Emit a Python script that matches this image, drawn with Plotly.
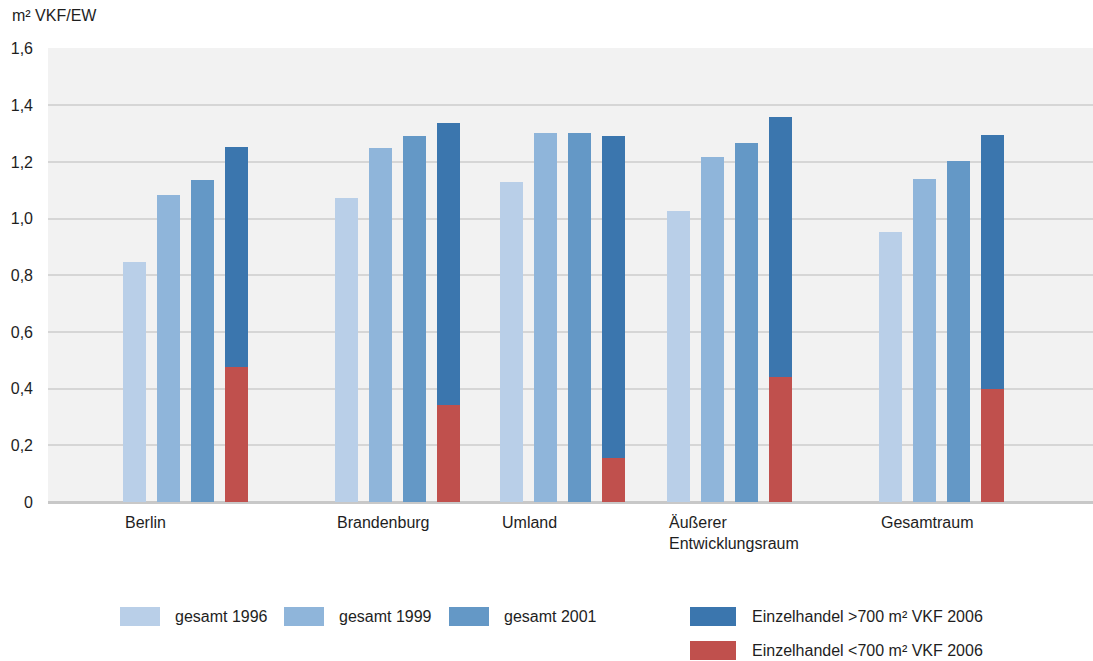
import plotly.graph_objects as go

# values in m² VKF per inhabitant
regions = ["Berlin", "Brandenburg", "Umland", "Äußerer<br>Entwicklungsraum", "Gesamtraum"]
gesamt_1996 = [0.846, 1.072, 1.129, 1.026, 0.952]
gesamt_1999 = [1.083, 1.249, 1.302, 1.217, 1.139]
gesamt_2001 = [1.136, 1.291, 1.302, 1.266, 1.203]
eh_klein_2006 = [0.476, 0.342, 0.155, 0.441, 0.399]   # Einzelhandel <700 m² VKF 2006
eh_gross_2006 = [0.776, 0.995, 1.136, 0.917, 0.896]   # Einzelhandel >700 m² VKF 2006

tick_vals = [0, 0.2, 0.4, 0.6, 0.8, 1.0, 1.2, 1.4, 1.6]
tick_text = ["0", "0,2", "0,4", "0,6", "0,8", "1,0", "1,2", "1,4", "1,6"]

# layout of the groups (irregular spacing like the original)
group_pos = [0, 1.277, 2.271, 3.277, 4.554]
offsets = [-0.307, -0.102, 0.102, 0.307]
bw = 0.139

colors = ["#b9cfe8", "#8fb5da", "#6498c6", "#3b76ae", "#c0504d"]
names = ["gesamt 1996", "gesamt 1999", "gesamt 2001",
         "Einzelhandel >700 m² VKF 2006",
         "Einzelhandel <700 m² VKF 2006"]

def shift(d):
    return [p + d for p in group_pos]

fig = go.Figure()
for vals, off, col in zip([gesamt_1996, gesamt_1999, gesamt_2001], offsets[:3], colors[:3]):
    fig.add_trace(go.Bar(x=shift(off), y=vals, width=bw, marker=dict(color=col, line=dict(width=0))))
# stacked 2006 bar: small shops at the bottom, large on top
fig.add_trace(go.Bar(x=shift(offsets[3]), y=eh_klein_2006, width=bw,
                     marker=dict(color=colors[4], line=dict(width=0))))
fig.add_trace(go.Bar(x=shift(offsets[3]), y=eh_gross_2006, width=bw,
                     marker=dict(color=colors[3], line=dict(width=0))))

FONT = "Liberation Sans, Arial, sans-serif"
L, R, T, B = 48, 1093, 48, 502

def px(x):
    return (x - L) / (R - L)

def py(y):
    return (B - y) / (B - T)

annotations = []
# category labels, left aligned at the first bar of each group
for reg, g in zip(regions, group_pos):
    annotations.append(dict(x=g + offsets[0] - bw / 2, y=py(512), xref="x", yref="paper",
                            text=reg, showarrow=False, xanchor="left", yanchor="top",
                            align="left", font=dict(size=16, color="#1e1e1e")))
# y axis unit
annotations.append(dict(x=px(10), y=py(16), xref="paper", yref="paper",
                        text="m² VKF/EW", showarrow=False,
                        xanchor="left", yanchor="middle", font=dict(size=16, color="#1e1e1e")))

# hand-drawn legend with wide swatches
legend_items = [
    (120, 160, 607, 626, 173, colors[0], names[0]),
    (284, 324, 607, 626, 337, colors[1], names[1]),
    (449, 489, 607, 626, 502, colors[2], names[2]),
    (690, 736, 607, 626, 750, colors[3], names[3]),
    (690, 736, 641, 660, 750, colors[4], names[4]),
]
shapes = []
for x0, x1, y0, y1, tx, col, nm in legend_items:
    shapes.append(dict(type="rect", xref="paper", yref="paper",
                       x0=px(x0), x1=px(x1), y0=py(y1), y1=py(y0),
                       fillcolor=col, line=dict(width=0)))
    annotations.append(dict(x=px(tx), y=py((y0 + y1) / 2), xref="paper", yref="paper",
                            text=nm, showarrow=False, xanchor="left", yanchor="middle",
                            font=dict(size=16, color="#1e1e1e")))

fig.update_layout(
    width=1093, height=661,
    barmode="stack",
    showlegend=False,
    paper_bgcolor="white",
    plot_bgcolor="#f2f2f2",
    margin=dict(l=L, r=1093 - R, t=T, b=661 - B, pad=0),
    font=dict(family=FONT, size=16, color="#1e1e1e"),
    annotations=annotations,
    shapes=shapes,
    xaxis=dict(range=[-0.828, 5.467], showticklabels=False, showgrid=False,
               zeroline=False, showline=False, fixedrange=True),
    yaxis=dict(range=[0, 1.602], tickvals=tick_vals, ticktext=tick_text,
               showgrid=True, gridcolor="#d6d6d6", gridwidth=2,
               zeroline=True, zerolinecolor="#c8c8c8", zerolinewidth=3,
               ticklabelstandoff=14, tickfont=dict(size=16, color="#1e1e1e"),
               fixedrange=True),
)

fig.write_html("out.html", config={"displayModeBar": False},
               post_script="document.body.style.margin='0';document.body.style.overflow='hidden';")
